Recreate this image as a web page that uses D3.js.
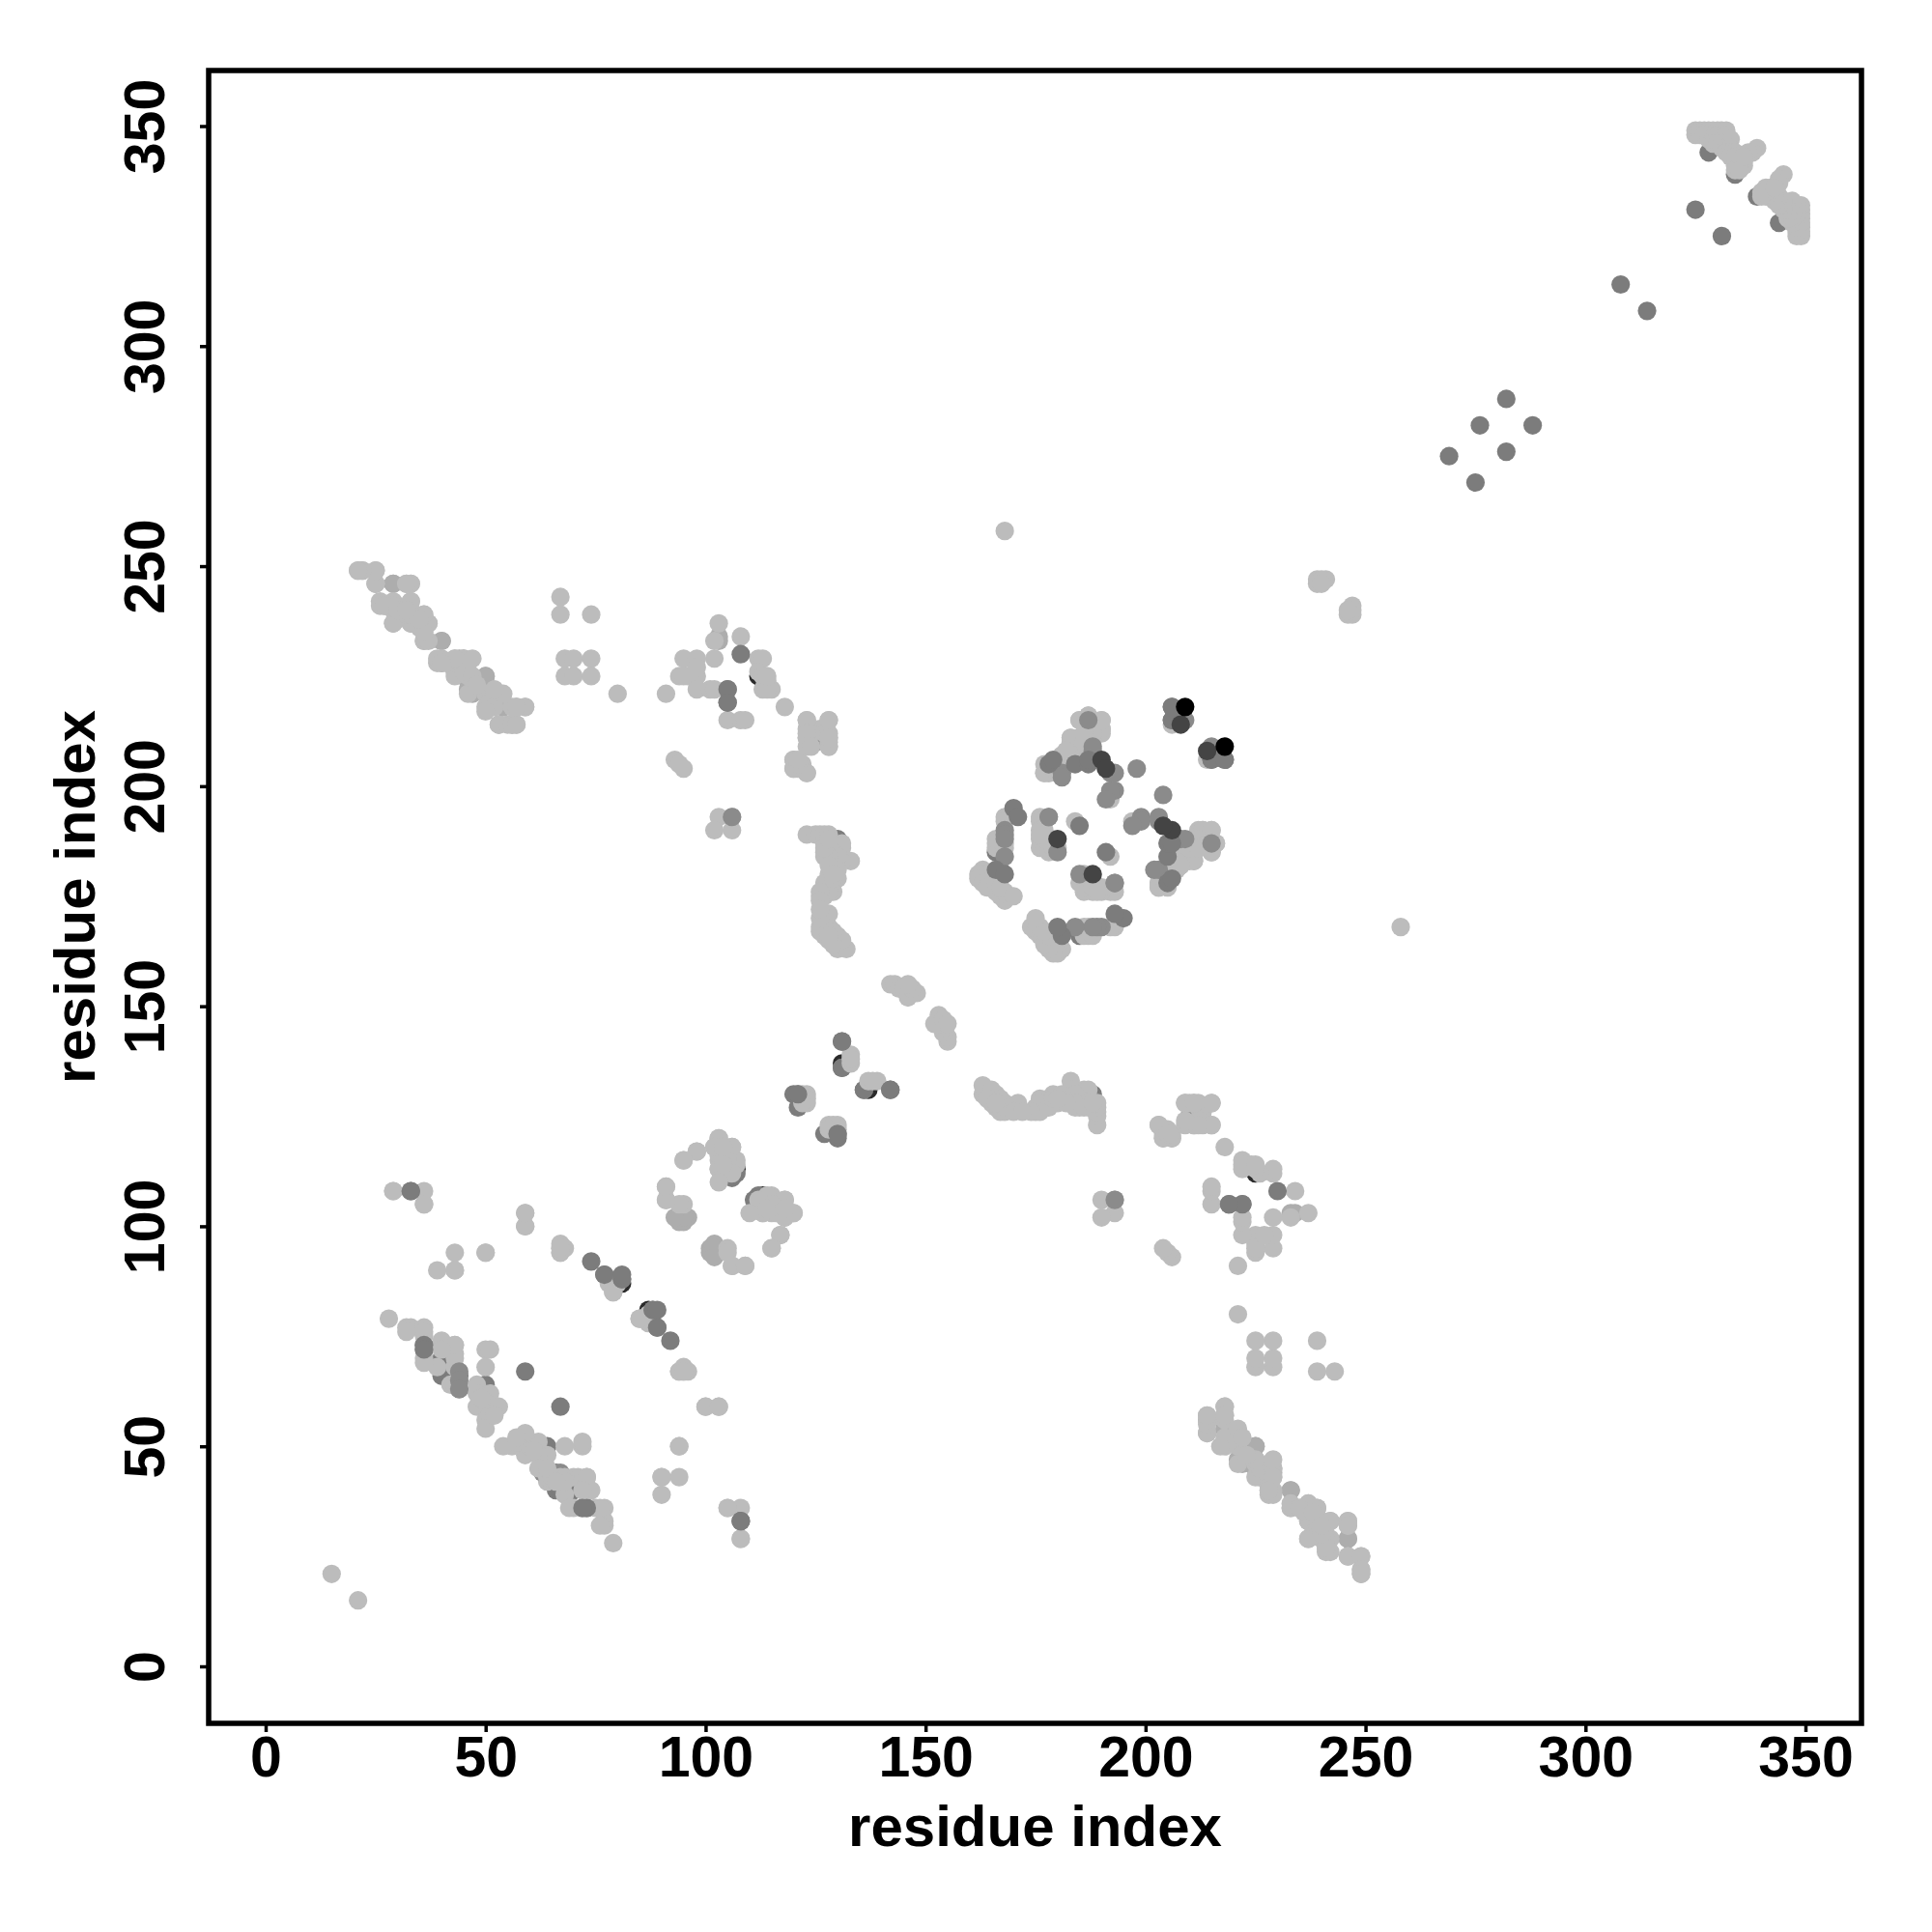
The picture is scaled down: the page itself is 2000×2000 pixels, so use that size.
<!DOCTYPE html>
<html><head><meta charset="utf-8">
<style>html,body{margin:0;padding:0;background:#fff}svg{display:block}text{font-family:"Liberation Sans",Arial,sans-serif;font-weight:700;fill:#000}</style>
<script src="https://cdn.jsdelivr.net/npm/d3@7"></script>
</head><body><div id="chart"></div>
<script>
// Residue contacts [i, j], i < j. Each is drawn at (i,j) and at (j,i). Grouped by shade, drawn in this order.
const tickValues = [0,50,100,150,200,250,300,350];
const axisTitle = "residue index";

const contactsUnderDark = [[80,87],[87,81],[131,137],[107,113],[112,225],[185,206]];
const contactsUnderMid = [[36,73],[40,70],[40,66],[40,67],[40,69],[36,72],[63,44],[66,44],[131,136],[136,131],[120,130],[121,130],[121,127],[125,210],[125,212],[107,112],[111,106],[130,188],[77,89],[50,64],[334,339],[328,344],[105,222],[105,219],[166,185],[185,208]];
const contactsUnderLight2 = [[29,246],[40,233],[46,222],[50,225],[50,222],[54,218],[57,218],[46,224],[43,226],[40,228],[106,193],[94,102],[96,102],[95,101],[101,94],[102,95],[102,93],[103,233],[103,234],[221,47],[225,47],[225,45],[233,40],[225,50],[218,54],[218,51],[221,52],[229,45],[229,44],[246,29],[214,56],[214,53],[237,33],[237,29]];
const contactsLight = [
 [15,21],[29,108],[36,108],[36,105],[59,103],[59,100],[43,94],[50,94],[39,90],[43,90],[67,94],[67,95],[67,96],[68,95],[78,87],[79,85],[80,87],
 [28,79],[32,77],[33,77],[36,77],[36,75],[36,70],[40,74],[43,73],[43,71],[39,68],[42,64],[50,72],[51,72],[50,68],[48,64],[51,62],[48,59],[52,59],[50,56],[51,58],[50,60],[53,59],[51,57],[48,62],[43,68],[43,70],[43,73],[40,72],[36,69],[36,76],[32,76],[43,64],[94,67],
 [85,79],[94,50],[100,59],[103,59],[105,36],[108,29],[90,43],[95,67],[50,54],[52,57],[49,61],
 [21,249],[22,249],[25,249],[25,246],[32,246],[33,246],[26,242],[26,241],[29,242],[29,240],[29,237],[33,242],[33,240],[33,237],[36,239],[37,237],[36,233],[36,235],[40,229],[39,228],[43,229],[46,228],[43,225],[46,225],[46,221],[50,221],[53,221],[50,218],[59,218],[53,214],[55,214],[57,214],[27,241],[33,239],[32,239],[43,228],[36,237],[36,238],[39,229],[41,228],[45,226],[45,229],[47,225],[48,223],[52,220],[51,219],[52,218],[50,217],[56,218],[56,214],[36,233],[35,236],
 [67,243],[67,239],[74,239],[68,229],[70,229],[74,229],[68,225],[70,225],[74,225],[80,221],[91,221],[103,237],[102,233],[102,229],[95,229],[98,229],[94,225],[96,225],[98,225],[98,222],[101,222],[102,222],[105,215],[108,215],[109,215],[108,234],[112,229],[113,229],[112,226],[113,225],[114,224],[115,222],[113,222],[114,222],[114,225],[118,218],[95,225],[98,227],
 [123,215],[128,215],[123,213],[123,211],[127,212],[128,212],[128,209],[128,210],[126,213],[128,211],[124,212],
 [93,206],[94,205],[95,204],[120,206],[120,204],[123,203],[121,204],[122,205],[103,193],[102,190],[106,190],
 [91,109],[91,106],[95,105],[95,115],[98,117],[103,120],[102,118],[106,118],[103,115],[103,113],[104,116],[103,117],[107,115],[114,107],[118,106],[113,103],[116,103],[120,103],[118,102],[117,98],[115,95],[105,94],[106,91],[109,91],[112,104],[115,105],[112,106],[114,104],[118,104],[110,103],
 [133,139],[142,155],[143,155],[144,154],[145,154],[146,153],[146,152],[148,153],[147,154],[146,155],
 [123,189],[125,189],[126,189],[127,189],[128,189],[127,187],[127,185],[127,184],[128,186],[131,186],[131,187],[129,185],[133,183],[131,183],[130,184],[128,184],[130,179],[130,181],[128,180],[129,180],[128,178],[127,176],[126,175],[127,175],[129,178],[129,176],[127,178],[128,176],[128,182],
 [128,171],[126,168],[126,167],[127,166],[128,168],[130,166],[128,165],[131,164],[130,163],[132,163],[131,165],[129,164],[129,167],[127,168],[126,170],[128,166],
 [122,130],[123,130],[123,128],[123,129],[122,128],[137,133],[138,133],[127,186],[128,188],[129,179],[129,180],[126,176],[126,174],[126,172],
 [168,258],[239,246],[239,247],[241,247],[240,247],[240,246],
 [203,123],[206,120],[204,120],[205,121],[206,121],[209,128],[211,128],[215,128],[211,123],[215,123],[212,123],[209,123],[209,124],
 [218,59],[214,57],[218,57],[221,54],[222,52],[229,47],[229,43],[228,40],[233,37],[237,37],[239,36],[239,33],[242,33],[241,29],[241,27],[246,33],[246,32],[246,25],[249,25],[249,22],[249,21],[235,36],[240,30],[238,35],[240,32],
 [163,181],[163,180],[163,179],[164,180],[164,178],[165,178],[165,177],[166,176],[167,175],[168,174],[168,176],[169,175],[162,180],[162,179],[163,178],[164,177],[166,178],[167,177],[170,175],
 [168,193],[168,192],[166,187],[166,186],[168,186],[168,187],[167,188],[166,188],[176,193],[176,192],[176,190],[176,188],[176,186],[177,186],[178,185],[180,186],[184,192],[179,186],[177,188],[177,190],[176,189],
 [185,215],[190,215],[187,216],[186,212],[190,212],[188,213],[187,214],[188,211],[183,211],[183,209],[184,210],[181,206],[182,208],[177,203],[178,204],[177,205],[180,203],[179,204],[180,206],[190,213],[185,211],[178,203],[181,207],[179,205],[192,197],[206,214],
 [213,190],[215,190],[216,187],[215,185],[211,185],[210,183],[212,188],[214,187],[209,185],[211,183],[207,181],[203,178],[203,177],[204,179],[206,181],[203,180],[205,178],[207,183],[208,182],[210,186],[212,186],
 [325,349],[326,349],[327,349],[328,349],[329,349],[330,349],[331,349],[332,349],[325,348],[326,348],[327,348],[328,347],[329,347],[330,348],[331,348],[332,348],[333,347],[329,346],[330,346],[331,346],[331,345],[332,345],[333,345],[332,344],[333,344],[334,344],[333,343],[334,343],[335,342],[336,342],[334,341],[335,341],[336,341],[334,340],[335,340],[339,345],[338,344],[337,344],[336,343]
];
const contactsTopMidLight = [[193,106],[168,190],[168,189],[168,188],[178,193],[180,185],[187,215],[181,203],[188,208],[192,203],[193,203],[193,199],[192,199],[191,197],[198,204],[188,209],[181,202],[193,178],[209,215],[168,184],[44,67],[44,65],[44,63]];
const contactsTopMid = [[33,108],[59,67],[74,92],[77,89],[108,33],[73,36],[72,36],[88,81],[81,88],[81,89],[108,230],[105,222],[105,219],[121,130],[131,142],[142,131],[166,181],[168,180],[170,195],[171,193],[185,191],[178,205],[184,205],[187,205],[187,206],[206,218],[206,215],[215,206],[218,206],[269,275],[276,282],[282,288],[308,314],[325,331],[179,206]];
const contactsTopDark = [[180,188],[190,206],[191,204],[208,214]];
const contactsBlack = [[209,218]];
// Light marks that lie over darker ones on one side of the diagonal only: [x, y]
const oneSidedLight = [[64,43],[65,43],[67,43],[68,43],[68,42],[62,45],[64,45],[66,42]];

const layers = [
  {contacts: contactsUnderDark,   shade: "#2b2b2b"},
  {contacts: contactsUnderMid,    shade: "#7c7c7c"},
  {contacts: contactsUnderLight2, shade: "#adadad"},
  {contacts: contactsLight,       shade: "#bcbcbc"},
  {contacts: contactsTopMidLight, shade: "#8b8b8b"},
  {contacts: contactsTopMid,      shade: "#7c7c7c"},
  {contacts: contactsTopDark,     shade: "#444444"},
  {contacts: contactsBlack,       shade: "#000000"}
];

const frame = {left: 216, right: 1927, top: 73, bottom: 1784};
const x = d3.scaleLinear().domain([0,350]).range([275,1869]);
const y = d3.scaleLinear().domain([0,350]).range([1725,130.5]);
const radius = 9.6;

const svg = d3.select("#chart").append("svg").attr("width",2000).attr("height",2000);
svg.append("rect").attr("width",2000).attr("height",2000).attr("fill","#fff");

layers.forEach(layer => {
  const pts = layer.contacts.flatMap(([i,j]) => [[i,j],[j,i]]);
  svg.append("g").attr("fill",layer.shade).selectAll("circle").data(pts).join("circle")
    .attr("cx",d=>x(d[0])).attr("cy",d=>y(d[1])).attr("r",radius);
});
svg.append("g").attr("fill","#bcbcbc").selectAll("circle").data(oneSidedLight).join("circle")
  .attr("cx",d=>x(d[0])).attr("cy",d=>y(d[1])).attr("r",radius);

const xAxis = svg.append("g").attr("transform",`translate(0,${frame.bottom})`)
  .call(d3.axisBottom(x).tickValues(tickValues).tickSize(9).tickFormat(d3.format("d")));
xAxis.select(".domain").remove();
xAxis.selectAll("line").attr("stroke","#000").attr("stroke-width",3.5);
xAxis.selectAll("text").attr("y",55).attr("dy",0).attr("font-size",59).attr("text-anchor","middle");

const yAxis = svg.append("g").attr("transform",`translate(${frame.left},0)`)
  .call(d3.axisLeft(y).tickValues(tickValues).tickSize(9).tickFormat(d3.format("d")));
yAxis.select(".domain").remove();
yAxis.selectAll("line").attr("stroke","#000").attr("stroke-width",3.5);
yAxis.selectAll("text").attr("x",0).attr("y",0).attr("dy",0).attr("font-size",59)
  .attr("text-anchor","middle").attr("transform","translate(-46,0) rotate(-90)");

svg.append("rect").attr("x",frame.left).attr("y",frame.top)
  .attr("width",frame.right-frame.left).attr("height",frame.bottom-frame.top)
  .attr("fill","none").attr("stroke","#000").attr("stroke-width",5.5);

svg.append("text").attr("x",(frame.left+frame.right)/2).attr("y",1911)
  .attr("text-anchor","middle").attr("font-size",60).text(axisTitle);
svg.append("text").attr("transform",`translate(98,${(frame.top+frame.bottom)/2}) rotate(-90)`)
  .attr("text-anchor","middle").attr("font-size",60).text(axisTitle);
</script></body></html>
